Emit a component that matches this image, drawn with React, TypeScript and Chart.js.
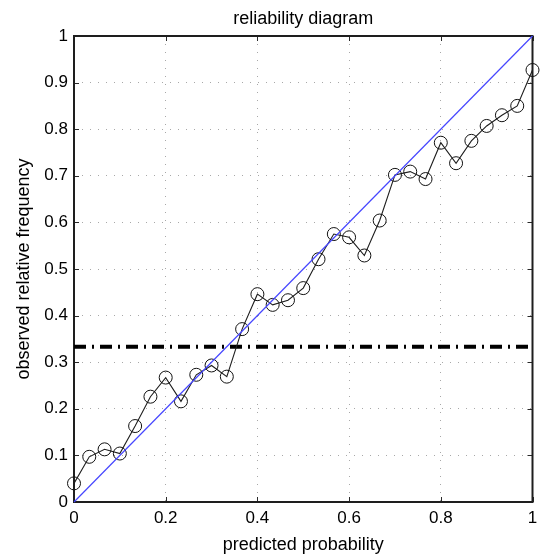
import React, { useEffect, useRef } from "react";
import { Chart, registerables } from "chart.js";

Chart.register(...registerables);

const predictedProbability = [
  0, 0.0333, 0.0667, 0.1, 0.1333, 0.1667, 0.2, 0.2333, 0.2667, 0.3, 0.3333,
  0.3667, 0.4, 0.4333, 0.4667, 0.5, 0.5333, 0.5667, 0.6, 0.6333, 0.6667, 0.7,
  0.7333, 0.7667, 0.8, 0.8333, 0.8667, 0.9, 0.9333, 0.9667, 1,
];
const observedFrequency = [
  0.04, 0.097, 0.113, 0.104, 0.163, 0.226, 0.267, 0.216, 0.273, 0.293, 0.269,
  0.371, 0.446, 0.423, 0.433, 0.459, 0.521, 0.575, 0.568, 0.529, 0.604, 0.702,
  0.709, 0.693, 0.771, 0.727, 0.775, 0.807, 0.83, 0.85, 0.927,
];
const diagonalX = [0, 1];
const diagonalY = [0, 1];
const climatologyX = [0, 1];
const climatologyY = [0.3333, 0.3333];

const titleText = "reliability diagram";
const xTitle = "predicted probability";
const yTitle = "observed relative frequency";

const FONT = "'Liberation Sans', Arial, Helvetica, sans-serif";

const framePlugin = {
  id: "matlabFrame",
  beforeDatasetsDraw(chart: any) {
    const { ctx, chartArea, scales } = chart;
    const { left, right, top, bottom } = chartArea;
    ctx.save();
    ctx.strokeStyle = "#2a2a2a";
    ctx.lineWidth = 1;
    const tl = 5;
    scales.x.ticks.forEach((t: any) => {
      const px = Math.round(scales.x.getPixelForValue(t.value)) + 0.5;
      ctx.beginPath();
      ctx.moveTo(px, bottom);
      ctx.lineTo(px, bottom - tl);
      ctx.moveTo(px, top);
      ctx.lineTo(px, top + tl);
      ctx.stroke();
    });
    scales.y.ticks.forEach((t: any) => {
      const py = Math.round(scales.y.getPixelForValue(t.value)) + 0.5;
      ctx.beginPath();
      ctx.moveTo(left, py);
      ctx.lineTo(left + tl, py);
      ctx.moveTo(right, py);
      ctx.lineTo(right - tl, py);
      ctx.stroke();
    });
    ctx.strokeStyle = "#1e1e1e";
    ctx.lineWidth = 2;
    ctx.strokeRect(left, top, right - left, bottom - top);
    ctx.restore();
  },
};

const fmt = (v: any) => String(Number(Number(v).toFixed(1)));

export default function App() {
  const ref = useRef<HTMLCanvasElement | null>(null);

  useEffect(() => {
    document.body.style.margin = "0";
    const canvas = ref.current;
    if (!canvas) return;
    const toPts = (xs: number[], ys: number[]) =>
      xs.map((x, i) => ({ x, y: ys[i] }));

    const chart = new Chart(canvas, {
      type: "scatter",
      data: {
        datasets: [
          {
            label: "perfect",
            data: toPts(diagonalX, diagonalY),
            showLine: true,
            borderColor: "#4646ff",
            borderWidth: 1.2,
            pointRadius: 0,
            clip: false,
          },
          {
            label: "observed",
            data: toPts(predictedProbability, observedFrequency),
            showLine: true,
            borderColor: "#1e1e1e",
            borderWidth: 1.1,
            pointRadius: 6.5,
            pointStyle: "circle",
            pointBorderColor: "#111111",
            pointBorderWidth: 1,
            pointBackgroundColor: "rgba(0,0,0,0)",
            clip: false,
          },
          {
            label: "climatology",
            data: toPts(climatologyX, climatologyY),
            showLine: true,
            borderColor: "#000000",
            borderWidth: 4,
            borderDash: [12, 6, 2, 6],
            borderCapStyle: "butt",
            pointRadius: 0,
            clip: false,
          },
        ],
      },
      options: {
        responsive: false,
        animation: false,
        devicePixelRatio: 1,
        layout: { padding: { left: 0, right: 4, top: 0, bottom: 0 } },
        plugins: {
          legend: { display: false },
          tooltip: { enabled: false },
          title: {
            display: true,
            fullSize: false,
            text: titleText,
            color: "#000",
            font: { family: FONT, size: 18, weight: "normal", lineHeight: 1.2 },
            padding: { top: 8, bottom: 6.4 },
          },
        },
        scales: {
          x: {
            type: "linear",
            min: 0,
            max: 1,
            afterFit: (s: any) => {
              s.height = 58;
              s.paddingLeft = 0;
              s.paddingRight = 0;
            },
            ticks: {
              stepSize: 0.2,
              color: "#000",
              padding: 6,
              maxRotation: 0,
              font: { family: FONT, size: 17 },
              callback: (v: any) => fmt(v),
            },
            grid: { color: "#a8a8a8", lineWidth: 1, drawTicks: false },
            border: { display: false, dash: [1, 7] },
            title: {
              display: true,
              text: xTitle,
              color: "#000",
              font: { family: FONT, size: 18, lineHeight: 1.2 },
              padding: { top: 0, bottom: 4 },
            },
          },
          y: {
            type: "linear",
            min: 0,
            max: 1,
            afterFit: (s: any) => {
              s.width = 74;
              s.paddingTop = 0;
              s.paddingBottom = 0;
            },
            ticks: {
              stepSize: 0.1,
              color: "#000",
              padding: 6,
              font: { family: FONT, size: 17 },
              callback: (v: any) => fmt(v),
            },
            grid: { color: "#a8a8a8", lineWidth: 1, drawTicks: false },
            border: { display: false, dash: [1, 7] },
            title: {
              display: true,
              text: yTitle,
              color: "#000",
              font: { family: FONT, size: 18, lineHeight: 1.2 },
              padding: { top: 13, bottom: 0 },
            },
          },
        },
      },
      plugins: [framePlugin],
    } as any);

    return () => chart.destroy();
  }, []);

  return (
    <div style={{ width: 540, height: 560, background: "#fff" }}>
      <canvas ref={ref} width={540} height={560} />
    </div>
  );
}
